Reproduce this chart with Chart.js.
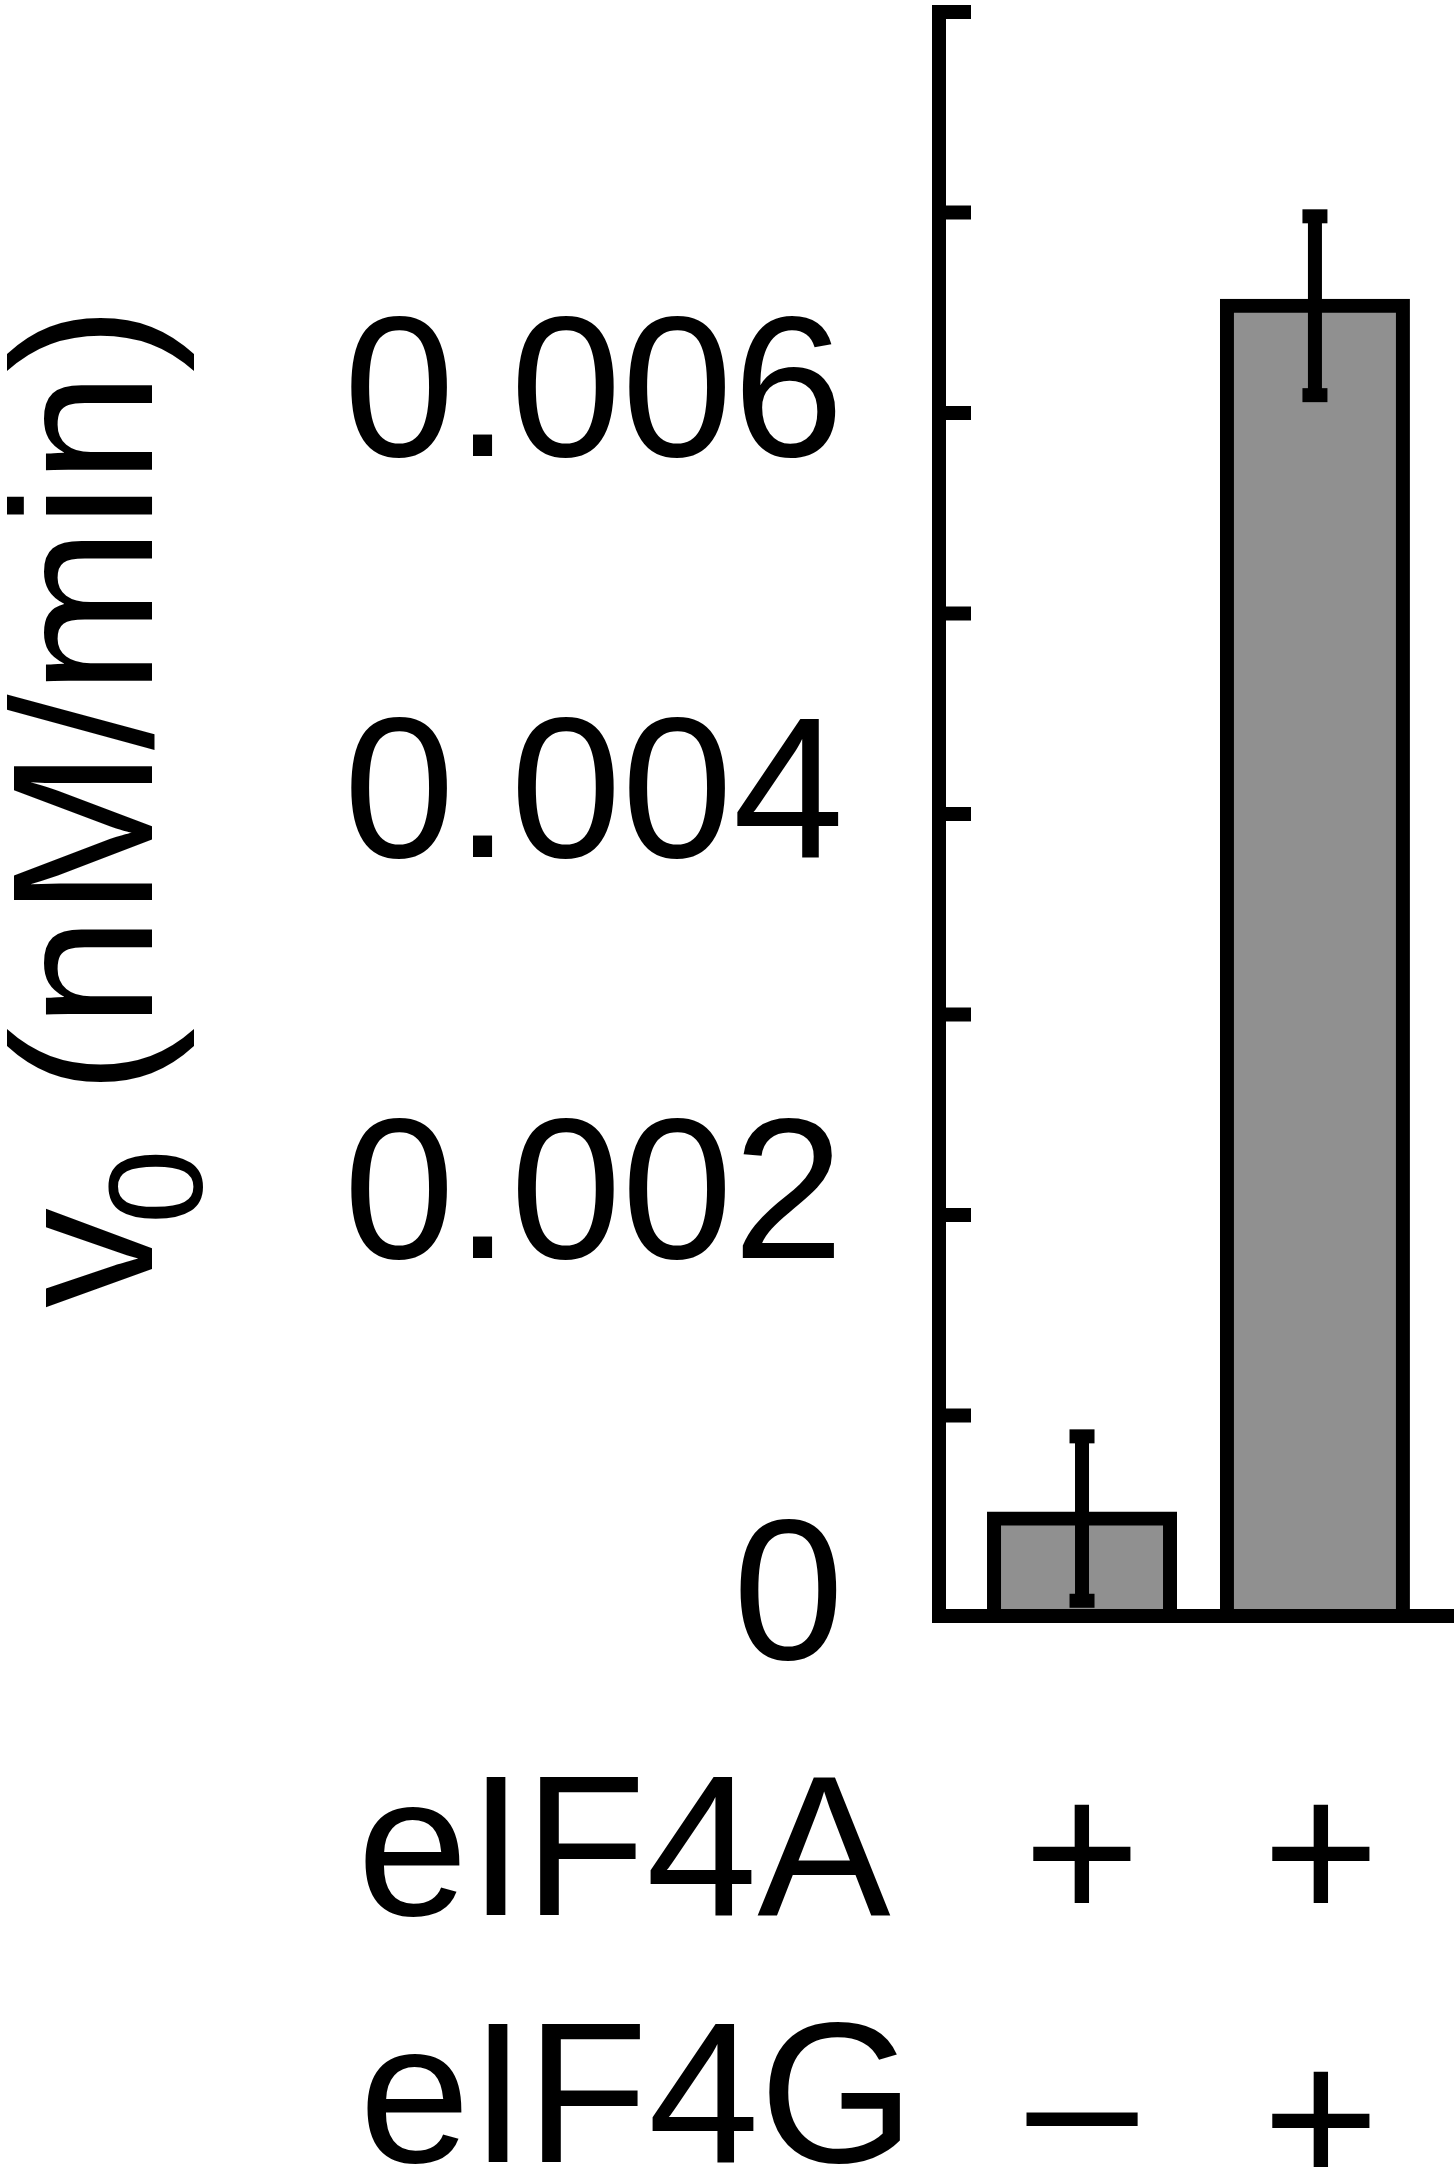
<!DOCTYPE html>
<html>
<head>
<meta charset="utf-8">
<script src="https://cdn.jsdelivr.net/npm/chart.js@4.4.0/dist/chart.umd.min.js"></script>
<style>
  html, body { margin: 0; padding: 0; background: #fff; }
  #wrap { width: 1456px; height: 2167px; }
</style>
</head>
<body>
<div id="wrap"><canvas id="chart" width="1456" height="2167"></canvas></div>
<script>
// values
const categories = ["eIF4A", "eIF4A + eIF4G"];
const xPositions = [1, 2];
const rates = [0.000486, 0.006535];
const rateErrors = [0.00041, 0.000446];
const tickValues = [0, 0.001, 0.002, 0.003, 0.004, 0.005, 0.006, 0.007, 0.008];
const tickLabels = ["0", "", "0.002", "", "0.004", "", "0.006", "", ""];
const rowLabels = ["eIF4A", "eIF4G"];
const eIF4A = ["+", "+"];
const eIF4G = ["\u2013", "+"];

const FONT = '"Liberation Sans", Arial, sans-serif';
const LINE = 14;

const figurePlugin = {
    id: "figureAxes",
    afterDatasetsDraw(chart) {
        const { ctx, scales: { x, y } } = chart;
        const axisX = x.left;
        const zeroY = y.getPixelForValue(0);
        const topY = y.getPixelForValue(tickValues[tickValues.length - 1]);

        ctx.save();
        ctx.fillStyle = "#000";

        // error bars
        rates.forEach((v, i) => {
            const cx = x.getPixelForValue(xPositions[i]);
            const hi = y.getPixelForValue(v + rateErrors[i]);
            const lo = y.getPixelForValue(v - rateErrors[i]);
            ctx.fillRect(cx - LINE / 2, hi, LINE, lo - hi);
            ctx.fillRect(cx - 12.5, hi - LINE / 2, 25, LINE);
            ctx.fillRect(cx - 12.5, lo - LINE / 2, 25, LINE);
        });

        // axis lines
        ctx.fillRect(axisX - LINE / 2, topY - LINE / 2, LINE, zeroY - topY + LINE);
        ctx.fillRect(axisX - LINE / 2, zeroY - LINE / 2, x.right - axisX + LINE / 2, LINE);

        // inward ticks + labels
        ctx.font = "200px " + FONT;
        ctx.textAlign = "right";
        ctx.textBaseline = "alphabetic";
        tickValues.forEach((t, i) => {
            const py = y.getPixelForValue(t);
            ctx.fillRect(axisX, py - LINE / 2, 32, LINE);
            if (tickLabels[i]) ctx.fillText(tickLabels[i], 844, py + 43);
        });

        // y title, rotated, with subscript
        ctx.save();
        ctx.translate(152, 1308);
        ctx.rotate(-Math.PI / 2);
        ctx.textAlign = "left";
        ctx.font = "200px " + FONT;
        ctx.fillText("v", 0, 0);
        ctx.font = "134px " + FONT;
        ctx.fillText("0", 84, 50);
        ctx.font = "200px " + FONT;
        ctx.fillText(" (nM/min)", 158, 0);
        ctx.restore();

        // condition rows under the bars
        ctx.font = "200px " + FONT;
        ctx.textAlign = "left";
        ctx.fillText(rowLabels[0], 357, 1915);
        ctx.fillText(rowLabels[1], 359, 2162);
        ctx.textAlign = "center";
        xPositions.forEach((xv, i) => {
            const cx = x.getPixelForValue(xv) + (i === 1 ? 6 : 0);
            ctx.fillText(eIF4A[i], cx, 1921);
            ctx.fillText(eIF4G[i], cx, eIF4G[i] === "+" ? 2188 : 2170);
        });

        ctx.restore();
    }
};

new Chart(document.getElementById("chart"), {
    type: "bar",
    data: {
        labels: categories,
        datasets: [{
            data: xPositions.map((xv, i) => ({ x: xv, y: rates[i] })),
            backgroundColor: "#909090",
            borderColor: "#000",
            borderWidth: LINE,
            borderSkipped: "start",
            inflateAmount: LINE / 2,
            barThickness: 176
        }]
    },
    options: {
        responsive: false,
        animation: false,
        layout: { padding: { left: 939, right: 2, top: 12, bottom: 551 } },
        plugins: { legend: { display: false }, tooltip: { enabled: false } },
        scales: {
            x: { type: "linear", min: 0.386, max: 2.597, offset: false, display: false },
            y: { min: 0, max: 0.008, display: false }
        }
    },
    plugins: [figurePlugin]
});
</script>
</body>
</html>
